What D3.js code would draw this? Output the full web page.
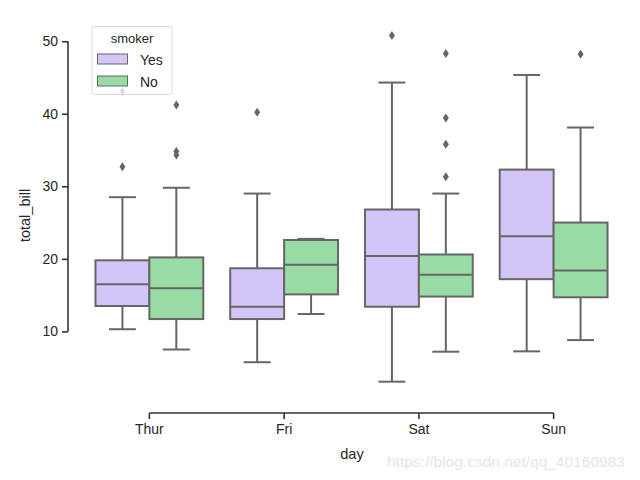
<!DOCTYPE html>
<html><head><meta charset="utf-8">
<script src="https://cdn.jsdelivr.net/npm/d3@7"></script>
<style>body{margin:0;background:#fff}svg{display:block;font-family:Arial,"Liberation Sans",sans-serif}</style>
</head><body><svg id="c" width="640" height="480"></svg>
<script>
const days = ["Thur","Fri","Sat","Sun"];
const smokers = ["Yes","No"];
const colors = ["#d4c5f8","#98dba5"];
// box stats per [day][smoker]: whisker low, q1, median, q3, whisker high
const whiskerLow  = [[10.3, 7.5],[5.75,12.4],[3.07,7.2],[7.25,8.8]];
const q1s         = [[13.5,11.7],[11.7,15.1],[13.4,14.8],[17.2,14.7]];
const medians     = [[16.5,15.95],[13.4,19.2],[20.4,17.8],[23.1,18.4]];
const q3s         = [[19.8,20.2],[18.7,22.6],[26.8,20.6],[32.3,25.0]];
const whiskerHigh = [[28.5,29.8],[29.0,22.75],[44.3,29.0],[45.35,38.1]];
const outliers    = [[[32.7,43.1],[41.2,34.8,34.3]],[[40.2],[]],[[50.8],[48.3,39.4,35.8,31.3]],[[],[48.2]]];
const yTicks = [10,20,30,40,50];

const svg = d3.select("#c");
const axL = 82, axR = 621, axT = 18, axB = 399;
const x = d3.scaleBand().domain(days).range([axL, axR]).paddingInner(0).paddingOuter(0);
const y = d3.scaleLinear().domain([0.68, 53.2]).range([axB, axT]);
const hueW = x.bandwidth()*0.8/2;
const edge = "#666666";

const g = svg.append("g");
days.forEach((d,i)=>{
  smokers.forEach((s,j)=>{
    const cx = x(d) + x.bandwidth()/2 + (j===0 ? -hueW/2 : hueW/2);
    const gg = g.append("g");
    gg.append("line").attr("x1",cx).attr("x2",cx).attr("y1",y(q1s[i][j])).attr("y2",y(whiskerLow[i][j])).attr("stroke",edge).attr("stroke-width",2);
    gg.append("line").attr("x1",cx).attr("x2",cx).attr("y1",y(q3s[i][j])).attr("y2",y(whiskerHigh[i][j])).attr("stroke",edge).attr("stroke-width",2);
    const capW = hueW*0.5;
    [whiskerLow[i][j], whiskerHigh[i][j]].forEach(v=>{
      gg.append("line").attr("x1",cx-capW/2).attr("x2",cx+capW/2).attr("y1",y(v)).attr("y2",y(v)).attr("stroke",edge).attr("stroke-width",2);
    });
    gg.append("rect").attr("x",cx-hueW/2).attr("width",hueW)
      .attr("y",y(q3s[i][j])).attr("height",y(q1s[i][j])-y(q3s[i][j]))
      .attr("fill",colors[j]).attr("stroke",edge).attr("stroke-width",2);
    gg.append("line").attr("x1",cx-hueW/2).attr("x2",cx+hueW/2).attr("y1",y(medians[i][j])).attr("y2",y(medians[i][j])).attr("stroke",edge).attr("stroke-width",2);
    outliers[i][j].forEach(v=>{
      gg.append("path").attr("d",`M${cx},${y(v)-4.5}L${cx+3},${y(v)}L${cx},${y(v)+4.5}L${cx-3},${y(v)}Z`).attr("fill",edge);
    });
  });
});

const yAxisG = svg.append("g").attr("transform",`translate(68,0)`)
  .call(d3.axisLeft(y).tickValues(yTicks).tickSize(6).tickPadding(4));
yAxisG.select(".domain").attr("d",`M0,${y(10)}V${y(50)}`);
const xAxisG = svg.append("g").attr("transform",`translate(0,413)`)
  .call(d3.axisBottom(x).tickSize(6).tickPadding(5));
xAxisG.select(".domain").attr("d",`M${x("Thur")+x.bandwidth()/2},0H${x("Sun")+x.bandwidth()/2}`);
[yAxisG,xAxisG].forEach(a=>{
  a.selectAll(".domain").attr("stroke","#333").attr("stroke-width",1.6);
  a.selectAll(".tick line").attr("stroke","#333").attr("stroke-width",1.6);
  a.selectAll(".tick text").attr("fill","#262626").style("font-size","14px").style("font-family","Arial,'Liberation Sans',sans-serif");
});
svg.append("text").attr("x",352).attr("y",459).attr("text-anchor","middle").attr("fill","#262626").style("font-size","14.5px").text("day");
svg.append("text").attr("transform","translate(30,215.5) rotate(-90)").attr("text-anchor","middle").attr("fill","#262626").style("font-size","14.5px").text("total_bill");

const lg = svg.append("g");
lg.append("rect").attr("x",92).attr("y",26.5).attr("width",80).attr("height",68).attr("rx",3)
  .attr("fill","#fff").attr("fill-opacity",0.8).attr("stroke","#d9d9d9").attr("stroke-width",1);
lg.append("text").attr("x",132).attr("y",43).attr("text-anchor","middle").attr("fill","#262626").style("font-size","13px").text("smoker");
smokers.forEach((s,j)=>{
  lg.append("rect").attr("x",97.5).attr("y",54+j*22).attr("width",30).attr("height",10)
    .attr("fill",colors[j]).attr("stroke",edge).attr("stroke-width",1);
  lg.append("text").attr("x",140).attr("y",64.5+j*22).attr("fill","#262626").style("font-size","14px").text(s);
});

svg.append("text").attr("x",387).attr("y",467).attr("fill","#e6e6e6").style("font-size","15.5px").text("https://blog.csdn.net/qq_40160983");
</script></body></html>
